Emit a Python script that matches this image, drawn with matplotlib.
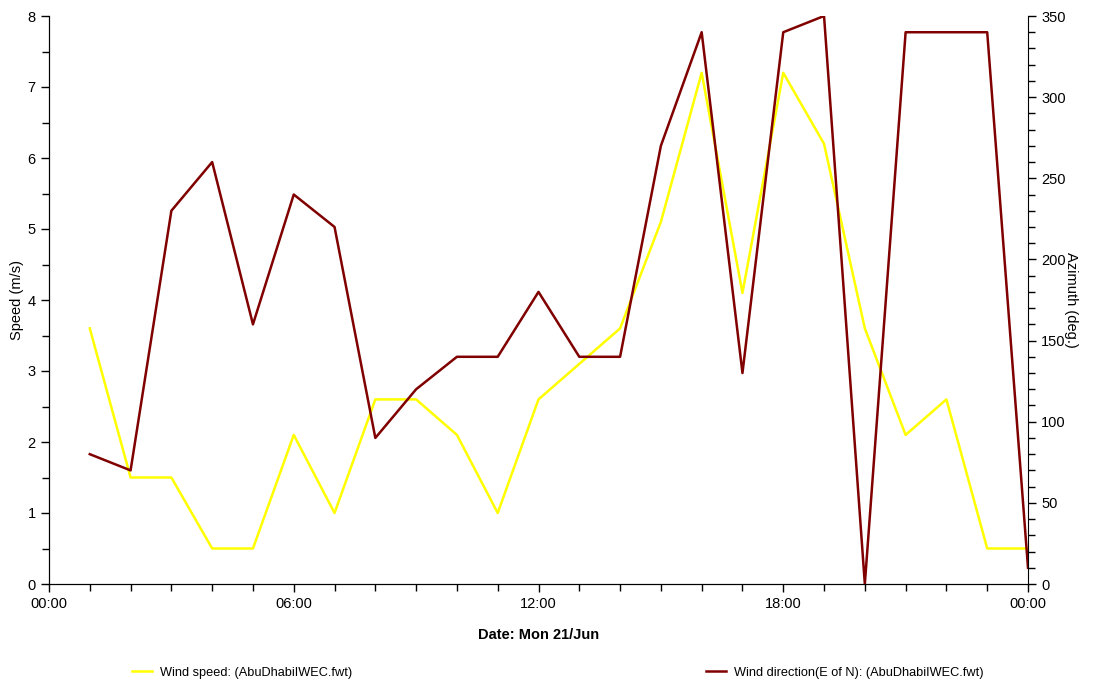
import matplotlib
matplotlib.use("Agg")
import matplotlib.pyplot as plt
from matplotlib.ticker import MultipleLocator

plt.rcParams['font.family'] = ['Liberation Sans', 'DejaVu Sans']

# Hourly readings for Mon 21/Jun (hour 24 = midnight of the next day)
hours = list(range(1, 25))
speed = [3.6, 1.5, 1.5, 0.5, 0.5, 2.1, 1.0, 2.6, 2.6, 2.1, 1.0, 2.6,
         3.1, 3.6, 5.1, 7.2, 4.1, 7.2, 6.2, 3.6, 2.1, 2.6, 0.5, 0.5]
direction = [80, 70, 230, 260, 160, 240, 220, 90, 120, 140, 140, 180,
             140, 140, 270, 340, 130, 340, 350, 0, 340, 340, 340, 10]
tick_hours = [0, 6, 12, 18, 24]
tick_labels = ["00:00", "06:00", "12:00", "18:00", "00:00"]

fig = plt.figure(figsize=(10.93, 6.83), dpi=100)
ax = fig.add_axes([49 / 1093, 99 / 683, 979 / 1093, 568 / 683])
ax2 = ax.twinx()

l1, = ax.plot(hours, speed, color="#ffff00", lw=1.8,
              label="Wind speed: (AbuDhabiIWEC.fwt)")
l2, = ax2.plot(hours, direction, color="#800000", lw=1.8,
               label="Wind direction(E of N): (AbuDhabiIWEC.fwt)")

ax.set_xlim(0, 24)
ax.set_ylim(0, 8)
ax2.set_ylim(0, 350)

ax.set_xticks(tick_hours)
ax.set_xticklabels(tick_labels)
ax.xaxis.set_minor_locator(MultipleLocator(1))
ax.yaxis.set_major_locator(MultipleLocator(1))
ax.yaxis.set_minor_locator(MultipleLocator(0.5))
ax2.yaxis.set_major_locator(MultipleLocator(50))
ax2.yaxis.set_minor_locator(MultipleLocator(10))

for a in (ax, ax2):
    a.spines["top"].set_visible(False)
    a.tick_params(which="major", length=6, width=1, labelsize=10.5)
    a.tick_params(which="minor", length=5, width=1)
ax.spines["right"].set_visible(False)

ax.set_ylabel("Speed (m/s)", fontsize=10.5, va="center")
ax.yaxis.set_label_coords(-0.033, 0.5)
ax2.set_ylabel("Azimuth (deg.)", fontsize=10.5, rotation=-90, va="center")
ax2.yaxis.set_label_coords(1.044, 0.5)
ax.set_xlabel("Date: Mon 21/Jun", fontsize=10.5, fontweight="bold", labelpad=12)

fig.legend(handles=[l1], loc="center left", bbox_to_anchor=(0.11, 0.015),
           frameon=False, fontsize=9.2, handlelength=1.6, handletextpad=0.6)
fig.legend(handles=[l2], loc="center left", bbox_to_anchor=(0.635, 0.015),
           frameon=False, fontsize=9.2, handlelength=1.6, handletextpad=0.6)

fig.savefig("out.png", dpi=100)
